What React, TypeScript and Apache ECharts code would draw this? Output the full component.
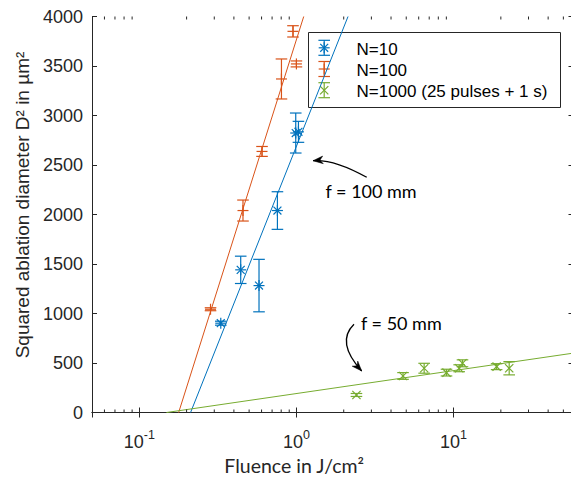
import React, { useEffect, useRef } from "react";
import * as echarts from "echarts";

// Fluence (J/cm²) vs. squared ablation diameter (µm²), with ± error
const n10Fluence = [0.33, 0.442, 0.578, 0.757, 0.99, 1.03];
const n10D2 = [902, 1441, 1282, 2040, 2823, 2835];
const n10Err = [20, 138, 265, 190, 202, 106];

const n100Fluence = [0.284, 0.457, 0.604, 0.803, 0.951, 1.0];
const n100D2 = [1043, 2040, 2637, 3369, 3850, 3521];
const n100Err = [15, 106, 50, 202, 57, 30];

const n1000Fluence = [2.41, 4.77, 6.5, 9.02, 10.86, 11.4, 18.8, 22.6];
const n1000D2 = [177, 369, 447, 403, 447, 497, 463, 447];
const n1000Err = [15, 34, 50, 34, 35, 35, 30, 67];

// Logarithmic fit lines (straight on the semi-log axes): [fluence, D²] end points
const fitN10 = [[0.212, 0], [2.13, 4000]];
const fitN100 = [[0.178, 0], [1.113, 4000]];
const fitN1000 = [[0.149, 0], [58, 600]];

const seriesNames = ["N=10", "N=100", "N=1000 (25 pulses + 1 s)"];
const colors = ["#0072BD", "#D95319", "#77AC30"];
const markers = ["asterisk", "plus", "cross"];

const xMin = 0.05;
const xMax = 58;
const yMin = 0;
const yMax = 4000;
const yStep = 500;

// Minor tick positions of the logarithmic fluence axis
const xMinorTicks = [
  0.06, 0.07, 0.08, 0.09,
  0.2, 0.3, 0.4, 0.5, 0.6, 0.7, 0.8, 0.9,
  2, 3, 4, 5, 6, 7, 8, 9,
  20, 30, 40, 50,
];

const AXIS = "#262626";
const SANS = "'Liberation Sans', Arial, sans-serif";
const LABEL_FONT = "Lato, 'Open Sans', sans-serif";

function markerLines(kind: string, cx: number, cy: number, r: number) {
  const d = r * 0.72;
  const segs: number[][] = [];
  if (kind === "asterisk" || kind === "plus") {
    segs.push([cx - r, cy, cx + r, cy], [cx, cy - r, cx, cy + r]);
  }
  if (kind === "asterisk") {
    segs.push([cx - d, cy - d, cx + d, cy + d], [cx - d, cy + d, cx + d, cy - d]);
  }
  if (kind === "cross") {
    const c = r * 0.75;
    segs.push([cx - c, cy - c, cx + c, cy + c], [cx - c, cy + c, cx + c, cy - c]);
  }
  return segs;
}

function errorBarSeries(idx: number, fx: number[], ys: number[], es: number[]) {
  const color = colors[idx];
  const kind = markers[idx];
  return {
    type: "custom",
    name: seriesNames[idx],
    xAxisIndex: 0,
    yAxisIndex: 0,
    z: 4,
    data: fx.map((f, i) => [f, ys[i], es[i]]),
    renderItem: (_params: any, api: any) => {
      const f = api.value(0);
      const y = api.value(1);
      const e = api.value(2);
      const c = api.coord([f, y]);
      const t = api.coord([f, y + e]);
      const b = api.coord([f, y - e]);
      const cap = 5.8;
      const style = { stroke: color, lineWidth: 1.2, fill: null };
      const segs: number[][] = [
        [t[0], t[1], b[0], b[1]],
        [t[0] - cap, t[1], t[0] + cap, t[1]],
        [b[0] - cap, b[1], b[0] + cap, b[1]],
        ...markerLines(kind, c[0], c[1], 5.5),
      ];
      return {
        type: "group",
        children: segs.map((s) => ({
          type: "line",
          shape: { x1: s[0], y1: s[1], x2: s[2], y2: s[3] },
          style,
        })),
      };
    },
  };
}

function fitSeries(idx: number, pts: number[][]) {
  return {
    type: "line",
    name: "fit " + seriesNames[idx],
    data: pts,
    symbol: "none",
    z: 3,
    lineStyle: { color: colors[idx], width: 1 },
    silent: true,
  };
}

function legendGraphic() {
  const left = 308.5;
  const top = 32.5;
  const width = 252;
  const height = 75;
  const rowY = [49.3, 70.5, 91.7];
  const iconX = 324.2;
  const children: any[] = [
    {
      type: "rect",
      shape: { x: left, y: top, width, height },
      style: { fill: "#ffffff", stroke: AXIS, lineWidth: 1 },
    },
  ];
  seriesNames.forEach((name, i) => {
    const cy = rowY[i] - 1.5;
    const style = { stroke: colors[i], lineWidth: 1.2, fill: null };
    const segs: number[][] = [
      [iconX, cy - 7.5, iconX, cy + 7.5],
      [iconX - 5.8, cy - 7.5, iconX + 5.8, cy - 7.5],
      [iconX - 5.8, cy + 7.5, iconX + 5.8, cy + 7.5],
      ...markerLines(markers[i], iconX, cy, 5.5),
    ];
    segs.forEach((s) =>
      children.push({
        type: "line",
        shape: { x1: s[0], y1: s[1], x2: s[2], y2: s[3] },
        style,
      })
    );
    children.push({
      type: "text",
      x: 356.5,
      y: rowY[i],
      style: {
        text: name,
        fill: "#000000",
        font: `17px ${SANS}`,
        verticalAlign: "middle",
        align: "left",
      },
    });
  });
  return { type: "group", z: 100, children };
}

function arrowHead(tipX: number, tipY: number, fromX: number, fromY: number) {
  const dx = tipX - fromX;
  const dy = tipY - fromY;
  const len = Math.hypot(dx, dy);
  const ux = dx / len;
  const uy = dy / len;
  const px = -uy;
  const py = ux;
  const L = 10;
  const W = 3.8;
  const notch = 7;
  return {
    type: "polygon",
    shape: {
      points: [
        [tipX, tipY],
        [tipX - ux * L + px * W, tipY - uy * L + py * W],
        [tipX - ux * notch, tipY - uy * notch],
        [tipX - ux * L - px * W, tipY - uy * L - py * W],
      ],
    },
    style: { fill: "#000000", stroke: "#000000", lineWidth: 0.5 },
  };
}

function annotationGraphics() {
  const a1 = { x1: 366.7, y1: 177.3, cpx1: 334, cpy1: 159, x2: 313, y2: 160.7 };
  const a2 = { x1: 354, y1: 324.3, cpx1: 335.5, cpy1: 342.3, x2: 361.7, y2: 371 };
  return [
    {
      type: "bezierCurve",
      z: 90,
      shape: a1,
      style: { stroke: "#000000", lineWidth: 1.3, fill: null },
    },
    { ...arrowHead(a1.x2, a1.y2, a1.cpx1, a1.cpy1), z: 90 },
    {
      type: "text",
      z: 90,
      x: 325.5,
      y: 191,
      style: {
        text: "f = 100 mm",
        fill: "#000000",
        font: `18px ${LABEL_FONT}`,
        verticalAlign: "middle",
      },
    },
    {
      type: "bezierCurve",
      z: 90,
      shape: a2,
      style: { stroke: "#000000", lineWidth: 1.3, fill: null },
    },
    { ...arrowHead(a2.x2, a2.y2, a2.cpx1, a2.cpy1), z: 90 },
    {
      type: "text",
      z: 90,
      x: 361,
      y: 322.5,
      style: {
        text: "f = 50 mm",
        fill: "#000000",
        font: `18px ${LABEL_FONT}`,
        verticalAlign: "middle",
      },
    },
  ];
}

export default function App() {
  const ref = useRef<HTMLDivElement>(null);

  useEffect(() => {
    if (!ref.current) return;
    const chart = echarts.init(ref.current, undefined, { renderer: "svg" });

    const logAxisBase = {
      type: "log",
      logBase: 10,
      min: xMin,
      max: xMax,
      axisLine: { show: true, lineStyle: { color: AXIS, width: 1 } },
      axisTick: { show: true, inside: true, length: 5, lineStyle: { color: AXIS } },
      splitLine: { show: false },
    };
    const valueAxisBase = {
      type: "value",
      min: yMin,
      max: yMax,
      interval: yStep,
      axisLine: { show: true, lineStyle: { color: AXIS, width: 1 } },
      axisTick: { show: true, inside: true, length: 5, lineStyle: { color: AXIS } },
      splitLine: { show: false },
    };

    chart.setOption({
      animation: false,
      backgroundColor: "#ffffff",
      grid: {
        left: 92,
        top: 16.5,
        right: -2.5,
        bottom: 65.5,
        containLabel: false,
        outerBoundsMode: "none",
      },
      xAxis: [
        {
          ...logAxisBase,
          position: "bottom",
          name: "Fluence in J/cm²",
          nameLocation: "middle",
          nameGap: 42,
          nameTextStyle: {
            fontFamily: LABEL_FONT,
            fontSize: 19.5,
            color: "#262626",
            padding: [0, 77, 0, 0],
          },
          axisLabel: {
            show: true,
            showMinLabel: false,
            showMaxLabel: false,
            margin: 16,
            formatter: (v: number) => `{b|10}{s|${Math.round(Math.log10(v))}}`,
            rich: {
              b: { fontSize: 18, fontFamily: SANS, color: AXIS, lineHeight: 22, verticalAlign: "bottom" },
              s: { fontSize: 12.5, fontFamily: SANS, color: AXIS, lineHeight: 11, verticalAlign: "top" },
            },
          },
        },
        {
          ...logAxisBase,
          position: "top",
          axisLabel: { show: false },
        },
      ],
      yAxis: [
        {
          ...valueAxisBase,
          position: "left",
          name: "Squared ablation diameter D² in µm²",
          nameLocation: "middle",
          nameGap: 57,
          nameRotate: 90,
          nameTextStyle: {
            fontFamily: SANS,
            fontSize: 19,
            color: "#262626",
            padding: [0, 0, 0, 19],
          },
          axisLabel: {
            show: true,
            margin: 9,
            fontFamily: SANS,
            fontSize: 18,
            color: AXIS,
            padding: [3, 0, 0, 0],
            formatter: (v: number) => String(v),
          },
        },
        {
          ...valueAxisBase,
          position: "right",
          axisLabel: { show: false },
        },
      ],
      series: [
        fitSeries(0, fitN10),
        fitSeries(1, fitN100),
        fitSeries(2, fitN1000),
        errorBarSeries(0, n10Fluence, n10D2, n10Err),
        errorBarSeries(1, n100Fluence, n100D2, n100Err),
        errorBarSeries(2, n1000Fluence, n1000D2, n1000Err),
        {
          // minor ticks on the bottom and top edges of the log axis
          type: "custom",
          name: "minor ticks",
          silent: true,
          z: 5,
          data: xMinorTicks.map((v) => [v, yMin]),
          renderItem: (_params: any, api: any) => {
            const b = api.coord([api.value(0), yMin]);
            const t = api.coord([api.value(0), yMax]);
            const style = { stroke: AXIS, lineWidth: 1 };
            return {
              type: "group",
              children: [
                { type: "line", shape: { x1: b[0], y1: b[1], x2: b[0], y2: b[1] - 3 }, style },
                { type: "line", shape: { x1: t[0], y1: t[1], x2: t[0], y2: t[1] + 3 }, style },
              ],
            };
          },
        },
      ],
      graphic: [legendGraphic(), ...annotationGraphics()],
    });

    return () => chart.dispose();
  }, []);

  return (
    <div
      ref={ref}
      style={{ position: "fixed", left: 0, top: 0, width: 571, height: 478 }}
    />
  );
}
